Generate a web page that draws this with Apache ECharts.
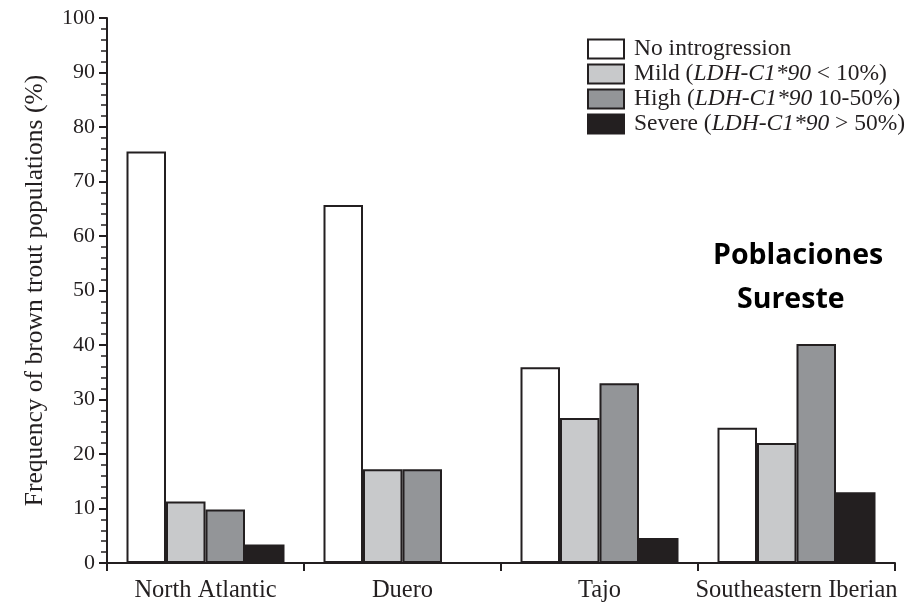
<!DOCTYPE html>
<html>
<head>
<meta charset="utf-8">
<script src="https://cdn.jsdelivr.net/npm/echarts@6/dist/echarts.min.js"></script>
<style>
  html, body { margin: 0; padding: 0; background: #ffffff; }
  #chart { width: 911px; height: 603px; }
</style>
</head>
<body>
<div id="chart"></div>
<script>
// Basins on the x axis
const basins = ['North Atlantic', 'Duero', 'Tajo', 'Southeastern Iberian'];

// Percentage of populations in each introgression class, per basin
const noIntrogression = [75.5, 65.7, 35.9, 24.8];
const mild = [11.3, 17.2, 26.6, 22.0];
const high = [9.8, 17.2, 33.0, 40.2];
const severe = [3.4, null, 4.6, 13.0];

// Y axis ticks
const yTicks = [0, 10, 20, 30, 40, 50, 60, 70, 80, 90, 100];

const ink = '#231f20';
const serif = '"Liberation Serif", "Times New Roman", serif';

const legendText = {
  'No introgression': '{r|No introgression}',
  'Mild': '{r|Mild (}{i|LDH-C1*90}{r| < 10%)}',
  'High': '{r|High (}{i|LDH-C1*90}{r| 10-50%)}',
  'Severe': '{r|Severe (}{i|LDH-C1*90}{r| > 50%)}'
};

function barSeries(name, values, color) {
  return {
    name: name,
    type: 'bar',
    data: values.map(v => (v === null ? '-' : v)),
    barWidth: 39.5,
    barGap: '0%',
    itemStyle: { color: color, borderColor: ink, borderWidth: 2 },
    emphasis: { disabled: true }
  };
}

const chart = echarts.init(document.getElementById('chart'), null, { renderer: 'canvas' });

chart.setOption({
  animation: false,
  backgroundColor: '#ffffff',
  grid: { left: 107, right: 16, top: 18, bottom: 37, containLabel: false },
  legend: {
    orient: 'vertical',
    left: 587,
    top: 37,
    padding: 0,
    itemWidth: 36,
    itemHeight: 19,
    itemGap: 1,
    icon: 'rect',
    selectedMode: false,
    formatter: name => legendText[name],
    textStyle: {
      color: ink,
      fontFamily: serif,
      fontSize: 23.5,
      lineHeight: 21,
      padding: [0, 0, 0, 5],
      rich: {
        r: { fontFamily: serif, fontSize: 23.5, color: ink, lineHeight: 21 },
        i: { fontFamily: serif, fontSize: 23.5, color: ink, fontStyle: 'italic', lineHeight: 21 }
      }
    }
  },
  xAxis: {
    type: 'category',
    data: basins,
    axisLine: { lineStyle: { color: ink, width: 2 } },
    axisTick: { show: true, length: 8, alignWithLabel: false, lineStyle: { color: ink, width: 2 } },
    axisLabel: { color: ink, fontFamily: serif, fontSize: 24.5, margin: 15, interval: 0 }
  },
  yAxis: {
    type: 'value',
    min: yTicks[0],
    max: yTicks[yTicks.length - 1],
    interval: yTicks[1] - yTicks[0],
    name: 'Frequency of brown trout populations (%)',
    nameLocation: 'middle',
    nameGap: 59,
    nameTextStyle: { color: ink, fontFamily: serif, fontSize: 25.5 },
    axisLine: { show: true, lineStyle: { color: ink, width: 2 } },
    axisTick: { show: true, length: 8, lineStyle: { color: ink, width: 2 } },
    minorTick: { show: true, splitNumber: 5, length: 6, lineStyle: { color: ink, width: 1.5 } },
    splitLine: { show: false },
    axisLabel: { color: ink, fontFamily: serif, fontSize: 22, margin: 12 }
  },
  series: [
    barSeries('No introgression', noIntrogression, '#ffffff'),
    barSeries('Mild', mild, '#c8c9cb'),
    barSeries('High', high, '#939598'),
    barSeries('Severe', severe, ink)
  ],
  graphic: [
    {
      type: 'text',
      left: 713,
      top: 241,
      style: { text: 'Poblaciones', fill: '#000000', font: 'bold 28.5px "Open Sans", "Noto Sans", sans-serif' }
    },
    {
      type: 'text',
      left: 737,
      top: 285,
      style: { text: 'Sureste', fill: '#000000', font: 'bold 28.5px "Open Sans", "Noto Sans", sans-serif' }
    }
  ]
});
</script>
</body>
</html>
